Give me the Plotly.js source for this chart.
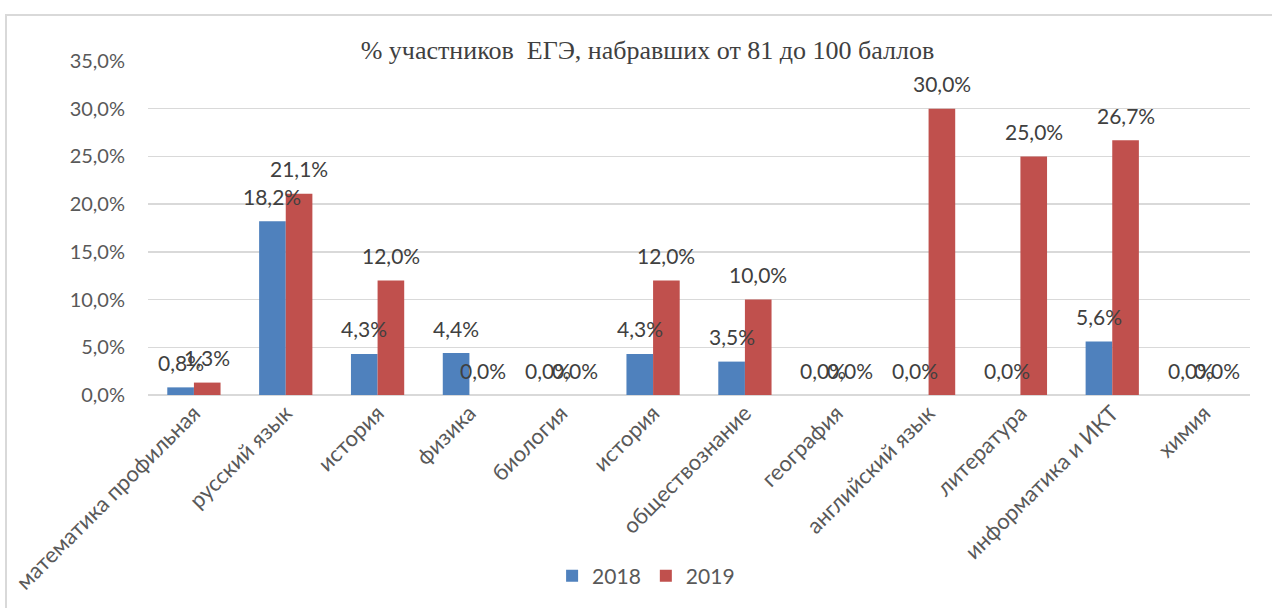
<!DOCTYPE html>
<html>
<head>
<meta charset="utf-8">
<script src="https://cdn.plot.ly/plotly-3.0.1.min.js"></script>
<style>
  html, body { margin: 0; padding: 0; background: #ffffff; }
  #frame { position: absolute; left: 5px; top: 14px; width: 1400px; height: 800px; border: 2px solid #d9d9d9; box-sizing: border-box; }
  #chart { position: absolute; left: 0; top: 0; width: 1272px; height: 608px; }
</style>
</head>
<body>
<div id="frame"></div>
<div id="chart"></div>
<script>
const categories = ["математика профильная", "русский язык", "история", "физика", "биология", "история",
                    "обществознание", "география", "английский язык", "литература", "информатика и ИКТ", "химия"];
const values2018 = [0.8, 18.2, 4.3, 4.4, 0.0, 4.3, 3.5, 0.0, 0.0, 0.0, 5.6, 0.0];
const values2019 = [1.3, 21.1, 12.0, 0.0, 0.0, 12.0, 10.0, 0.0, 30.0, 25.0, 26.7, 0.0];
const seriesNames = ["2018", "2019"];
const yTickValues = [0, 5, 10, 15, 20, 25, 30, 35];
const chartTitle = "% участников\u00a0 ЕГЭ, набравших от 81 до 100 баллов";

const positions = categories.map((_, i) => i);
const colors = ["#4f81bd", "#c0504d"];
const bargap = 0.42;
const half = (1 - bargap) / 4;
const fmt = v => v.toFixed(1).replace('.', ',') + '%';

const traces = [values2018, values2019].map((vals, k) => ({
  type: 'bar',
  name: seriesNames[k],
  x: positions,
  y: vals,
  marker: { color: colors[k] },
  hoverinfo: 'y'
}));

const annotations = [];
[values2018, values2019].forEach((vals, k) => {
  vals.forEach((v, i) => {
    annotations.push({
      x: i + (k === 0 ? -half : half),
      y: v,
      xref: 'x', yref: 'y',
      text: fmt(v),
      showarrow: false,
      yanchor: 'middle',
      xanchor: 'center',
      yshift: 25,
      font: { family: 'Lato, sans-serif', size: 21, color: '#404040' }
    });
  });
});

const layout = {
  width: 1272, height: 608,
  paper_bgcolor: 'rgba(0,0,0,0)',
  plot_bgcolor: 'rgba(0,0,0,0)',
  margin: { l: 148, r: 22, t: 61, b: 213 },
  separators: ', ',
  barmode: 'group',
  bargap: bargap,
  bargroupgap: 0,
  showlegend: true,
  title: {
    text: chartTitle,
    font: { family: 'Liberation Serif, Times New Roman, serif', size: 26, color: '#404040' },
    xref: 'container', yref: 'container',
    x: 0.509, xanchor: 'center',
    y: 0.918, yanchor: 'middle'
  },
  xaxis: {
    type: 'linear',
    range: [-0.5, categories.length - 0.5],
    tickmode: 'array',
    tickvals: positions,
    ticktext: categories,
    tickangle: -45,
    showgrid: false,
    zeroline: false,
    showline: false,
    ticks: '',
    tickfont: { family: 'Lato, sans-serif', size: 22, color: '#595959' },
    fixedrange: true
  },
  yaxis: {
    range: [0, 35],
    tickmode: 'array',
    tickvals: yTickValues,
    ticktext: yTickValues.map(fmt),
    showgrid: true,
    gridcolor: '#d9d9d9',
    gridwidth: 1.5,
    zeroline: true,
    zerolinecolor: '#d9d9d9',
    zerolinewidth: 1.5,
    showline: false,
    ticks: '',
    ticklabelstandoff: 22,
    tickfont: { family: 'Lato, sans-serif', size: 20, color: '#595959' },
    fixedrange: true
  },
  legend: {
    orientation: 'h',
    x: 0.452, xanchor: 'center',
    y: -0.542, yanchor: 'middle',
    font: { family: 'Lato, sans-serif', size: 21, color: '#595959' },
    bgcolor: 'rgba(0,0,0,0)'
  },
  annotations: annotations
};

Plotly.newPlot('chart', traces, layout, { displayModeBar: false, staticPlot: true });
</script>
</body>
</html>
